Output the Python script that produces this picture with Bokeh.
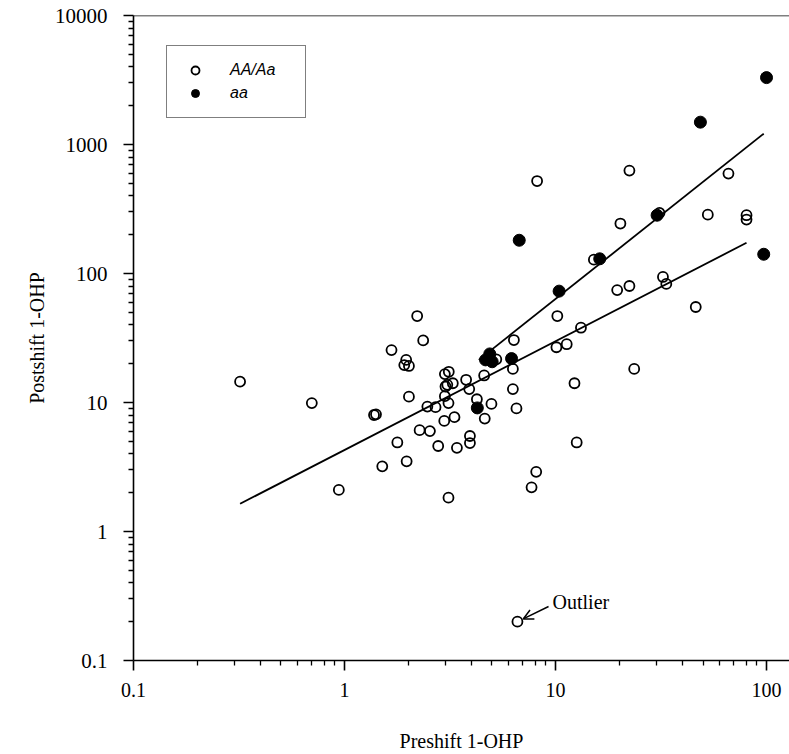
from bokeh.plotting import figure
from bokeh.models import (FixedTicker, CustomJSTickFormatter, Span, Legend, LegendItem,
                          Arrow, OpenHead, Label)
from bokeh.embed import file_html
from bokeh.resources import INLINE

# ---- data ----
open_pre = [0.32, 0.70, 2.21, 2.36, 1.67, 1.96, 1.92, 2.02, 2.02, 1.38, 1.41, 1.78, 1.51, 1.97,
            0.94, 3.11, 2.27, 2.54, 2.78, 3.41, 2.97, 3.32, 3.93, 3.93, 2.47, 2.70, 3.11, 2.99,
            3.01, 3.07, 3.26, 2.99, 3.12, 3.77, 3.90, 4.24, 4.62, 4.97, 4.59, 5.24, 8.18, 22.4,
            66.0, 20.3, 31.1, 52.7, 80.4, 80.4, 15.2, 19.6, 22.4, 32.3, 33.5, 46.2, 10.2, 13.2,
            10.1, 11.3, 6.35, 6.28, 23.6, 6.28, 12.3, 6.53, 8.1, 7.7, 12.6, 6.6]
open_post = [14.5, 9.9, 46.8, 30.3, 25.5, 21.4, 19.5, 19.2, 11.1, 8.0, 8.1, 4.9, 3.2, 3.5,
             2.1, 1.83, 6.1, 6.0, 4.6, 4.45, 7.2, 7.7, 5.5, 4.85, 9.3, 9.2, 9.9, 11.2,
             13.3, 13.7, 14.1, 16.6, 17.3, 15.0, 12.7, 10.6, 7.5, 9.75, 16.2, 21.6, 521, 628,
             595, 244, 295, 286, 283, 262, 128, 74.4, 80, 94, 83, 55, 46.8, 38,
             26.8, 28.3, 30.5, 18.2, 18.2, 12.7, 14.1, 9.0, 2.9, 2.2, 4.9, 0.2]

aa_pre = [6.73, 30.3, 97, 16.2, 10.4, 4.88, 4.66, 5.01, 6.19, 4.26, 48.6, 100]
aa_post = [181, 283, 141, 130, 73, 23.8, 21.4, 20.7, 21.9, 9.08, 1490, 3300]

fit_all_x = [0.32, 80.4]
fit_all_y = [1.64, 173]
fit_aa_x = [4.33, 97]
fit_aa_y = [21.4, 1213]

x_major = [0.1, 1, 10, 100]
y_major = [0.1, 1, 10, 100, 1000, 10000]

outlier_label_xy = (9.68, 0.286)
outlier_arrow_from = (9.27, 0.262)
outlier_arrow_to = (7.03, 0.21)

x_minor = [m * 10.0 ** d for d in range(-1, 3) for m in range(2, 10)]
y_minor = [m * 10.0 ** d for d in range(-1, 4) for m in range(2, 10)]

SERIF = "Liberation Serif"

p = figure(width=789, height=754, x_axis_type="log", y_axis_type="log",
           x_range=(0.1, 128.5), y_range=(0.1, 10000),
           output_backend="svg", toolbar_location=None,
           min_border_left=133, min_border_right=0, min_border_top=15, min_border_bottom=93)
p.outline_line_color = None
p.grid.visible = False
p.background_fill_color = "white"
p.border_fill_color = "white"

p.xaxis.ticker = FixedTicker(ticks=x_major, minor_ticks=x_minor)
p.yaxis.ticker = FixedTicker(ticks=y_major, minor_ticks=y_minor)
fmt = CustomJSTickFormatter(code="return String(tick);")
p.xaxis.formatter = fmt
p.yaxis.formatter = fmt

for ax in (p.xaxis[0], p.yaxis[0]):
    ax.axis_line_width = 1.6
    ax.axis_line_color = "black"
    ax.major_tick_line_width = 1.6
    ax.major_tick_line_color = "black"
    ax.minor_tick_line_width = 1.3
    ax.minor_tick_line_color = "black"
    ax.major_tick_in = 0
    ax.major_tick_out = 10
    ax.minor_tick_in = 0
    ax.minor_tick_out = 5
    ax.major_label_text_font = SERIF
    ax.major_label_text_color = "black"
    ax.axis_label_text_font = SERIF
    ax.axis_label_text_font_style = "normal"
    ax.axis_label_text_font_size = "20px"
    ax.axis_label_text_color = "black"

p.xaxis.major_label_text_font_size = "20px"
p.yaxis.major_label_text_font_size = "21px"
p.xaxis.major_label_standoff = 12
p.yaxis.major_label_standoff = 16
p.xaxis.axis_label = "Preshift 1-OHP"
p.yaxis.axis_label = "Postshift 1-OHP"
p.xaxis.axis_label_standoff = 30
p.yaxis.axis_label_standoff = 4

p.add_layout(Span(location=y_major[-1], dimension="width", line_color="black", line_width=1.6))

p.line(fit_all_x, fit_all_y, line_color="black", line_width=1.8)
p.line(fit_aa_x, fit_aa_y, line_color="black", line_width=1.8)

r_open = p.scatter(open_pre, open_post, marker="circle", size=10, fill_alpha=0,
                   line_color="black", line_width=1.8)
r_fill = p.scatter(aa_pre, aa_post, marker="circle", size=12, fill_color="black",
                   line_color="black", line_width=1)

legend = Legend(items=[LegendItem(label="AA/Aa", renderers=[r_open]),
                       LegendItem(label="aa", renderers=[r_fill])],
                location=(33, 542), orientation="vertical",
                border_line_color="black", border_line_width=1.5,
                background_fill_color="white", background_fill_alpha=1,
                padding=14, spacing=3, margin=0,
                glyph_width=28, glyph_height=20, label_height=20, label_width=61,
                label_standoff=21, label_text_font="Liberation Sans",
                label_text_font_style="italic", label_text_font_size="16px",
                label_text_color="black")
p.add_layout(legend)

p.add_layout(Arrow(end=OpenHead(size=10, line_width=1.5, line_color="black"),
                   x_start=outlier_arrow_from[0], y_start=outlier_arrow_from[1],
                   x_end=outlier_arrow_to[0], y_end=outlier_arrow_to[1],
                   line_width=1.5, line_color="black"))
p.add_layout(Label(x=outlier_label_xy[0], y=outlier_label_xy[1], text="Outlier",
                   text_font=SERIF, text_font_size="20px", text_baseline="middle",
                   text_color="black"))

open("out.html", "w").write(file_html(p, INLINE))
